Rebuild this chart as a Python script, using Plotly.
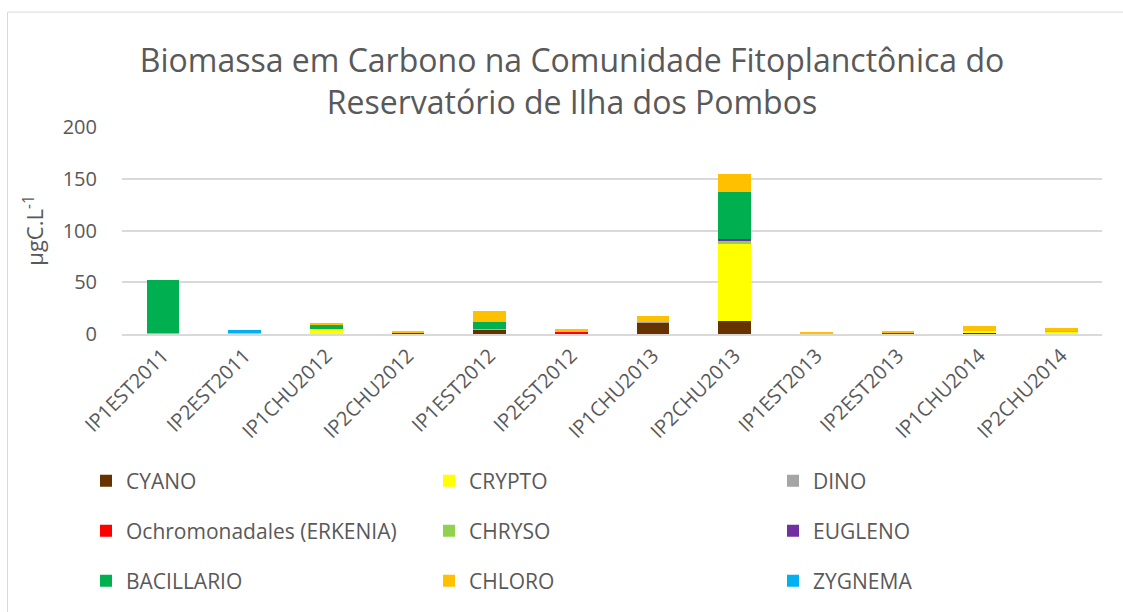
import plotly.graph_objects as go

# Sampling campaigns (reservoir point + season + year)
categories = ["IP1EST2011", "IP2EST2011", "IP1CHU2012", "IP2CHU2012", "IP1EST2012",
              "IP2EST2012", "IP1CHU2013", "IP2CHU2013", "IP1EST2013", "IP2EST2013",
              "IP1CHU2014", "IP2CHU2014"]

# Carbon biomass per group (µgC/L), stacked bottom to top
cyano      = [0.0, 0.0, 0.3, 1.5, 4.5, 0.5, 10.9, 12.2, 0.0, 0.3, 1.2, 0.3]
crypto     = [0.0, 0.0, 4.5, 0.0, 0.3, 0.3, 0.0, 75.6, 0.8, 0.0, 2.0, 2.2]
dino       = [0.0, 0.0, 0.0, 0.0, 0.0, 0.0, 0.8, 0.0, 0.0, 0.0, 0.0, 0.0]
ochro      = [0.0, 0.0, 0.0, 0.2, 0.0, 0.8, 0.0, 0.0, 0.0, 1.2, 0.0, 0.0]
chryso     = [1.0, 0.0, 0.0, 0.0, 0.4, 0.0, 0.0, 1.6, 0.0, 0.0, 0.0, 1.3]
eugleno    = [0.0, 0.0, 0.0, 0.0, 0.0, 0.0, 0.0, 2.5, 0.0, 0.0, 0.0, 0.0]
bacillario = [51.0, 0.0, 4.5, 0.0, 6.3, 0.0, 0.0, 45.5, 0.0, 0.0, 0.0, 0.0]
chloro     = [0.0, 0.5, 1.3, 1.5, 10.5, 3.2, 5.8, 17.6, 1.0, 0.8, 4.2, 1.8]
zygnema    = [0.0, 3.8, 0.0, 0.0, 0.0, 0.0, 0.0, 0.0, 0.0, 0.0, 0.0, 0.0]

series = [
    ("CYANO", cyano, "#663300"),
    ("CRYPTO", crypto, "#FFFF00"),
    ("DINO", dino, "#A5A5A5"),
    ("Ochromonadales (ERKENIA)", ochro, "#FF0000"),
    ("CHRYSO", chryso, "#92D050"),
    ("EUGLENO", eugleno, "#7030A0"),
    ("BACILLARIO", bacillario, "#00B050"),
    ("CHLORO", chloro, "#FFC000"),
    ("ZYGNEMA", zygnema, "#00B0F0"),
]

TEXT = "#595959"
GRID = "#D9D9D9"
FONT = "Open Sans"

W, H = 1123, 612
ML, MR, MT, MB = 122, 21, 127, 277
PW, PH = W - ML - MR, H - MT - MB


def px_x(px):
    return (px - ML) / PW


def px_y(py):
    return (H - MB - py) / PH


fig = go.Figure()
legend_layout = {}
col_x = [106, 449, 793]
row_y = [481, 531, 581]
for i, (name, vals, color) in enumerate(series):
    lg = "legend" if i == 0 else f"legend{i + 1}"
    fig.add_trace(go.Bar(
        x=categories, y=vals, name=name,
        marker=dict(color=color, line=dict(width=0)),
        legend=lg, showlegend=True,
    ))
    r, c = divmod(i, 3)
    legend_layout[lg] = dict(
        x=px_x(col_x[c] - 20), y=px_y(row_y[r]),
        xanchor="left", yanchor="middle",
        bgcolor="rgba(0,0,0,0)", borderwidth=0,
        font=dict(family=FONT, size=21, color=TEXT),
        itemclick=False, itemdoubleclick=False,
    )

fig.update_layout(
    width=W, height=H,
    margin=dict(l=ML, r=MR, t=MT, b=MB),
    paper_bgcolor="white", plot_bgcolor="white",
    barmode="stack", bargap=0.6, showlegend=True,
    font=dict(family=FONT, size=20, color=TEXT),
    title=dict(
        text="Biomassa em Carbono na Comunidade Fitoplanctônica do<br>Reservatório de Ilha dos Pombos",
        x=572 / W, xanchor="center", xref="container",
        y=1 - 72 / H, yanchor="middle", yref="container",
        font=dict(family=FONT, size=32, color=TEXT),
    ),
    xaxis=dict(
        tickangle=-45, showgrid=False,
        showline=True, linecolor=GRID, linewidth=2,
        tickfont=dict(family=FONT, size=20, color=TEXT),
        automargin=False,
    ),
    yaxis=dict(
        range=[0, 200], dtick=50, showgrid=True, gridcolor=GRID, gridwidth=1.5,
        zeroline=False, showline=False,
        ticklabelstandoff=24,
        tickfont=dict(family=FONT, size=20, color=TEXT),
        title=dict(text="µgC.L<sup>-1</sup>", standoff=12,
                   font=dict(family=FONT, size=22, color=TEXT)),
        automargin=False,
    ),
    shapes=[dict(
        type="rect", xref="paper", yref="paper",
        x0=px_x(7.5), x1=px_x(1130), y0=px_y(620), y1=px_y(11.5),
        line=dict(color=GRID, width=1), fillcolor="rgba(0,0,0,0)", layer="below",
    )],
    **legend_layout,
)

fig.write_html("out.html")
